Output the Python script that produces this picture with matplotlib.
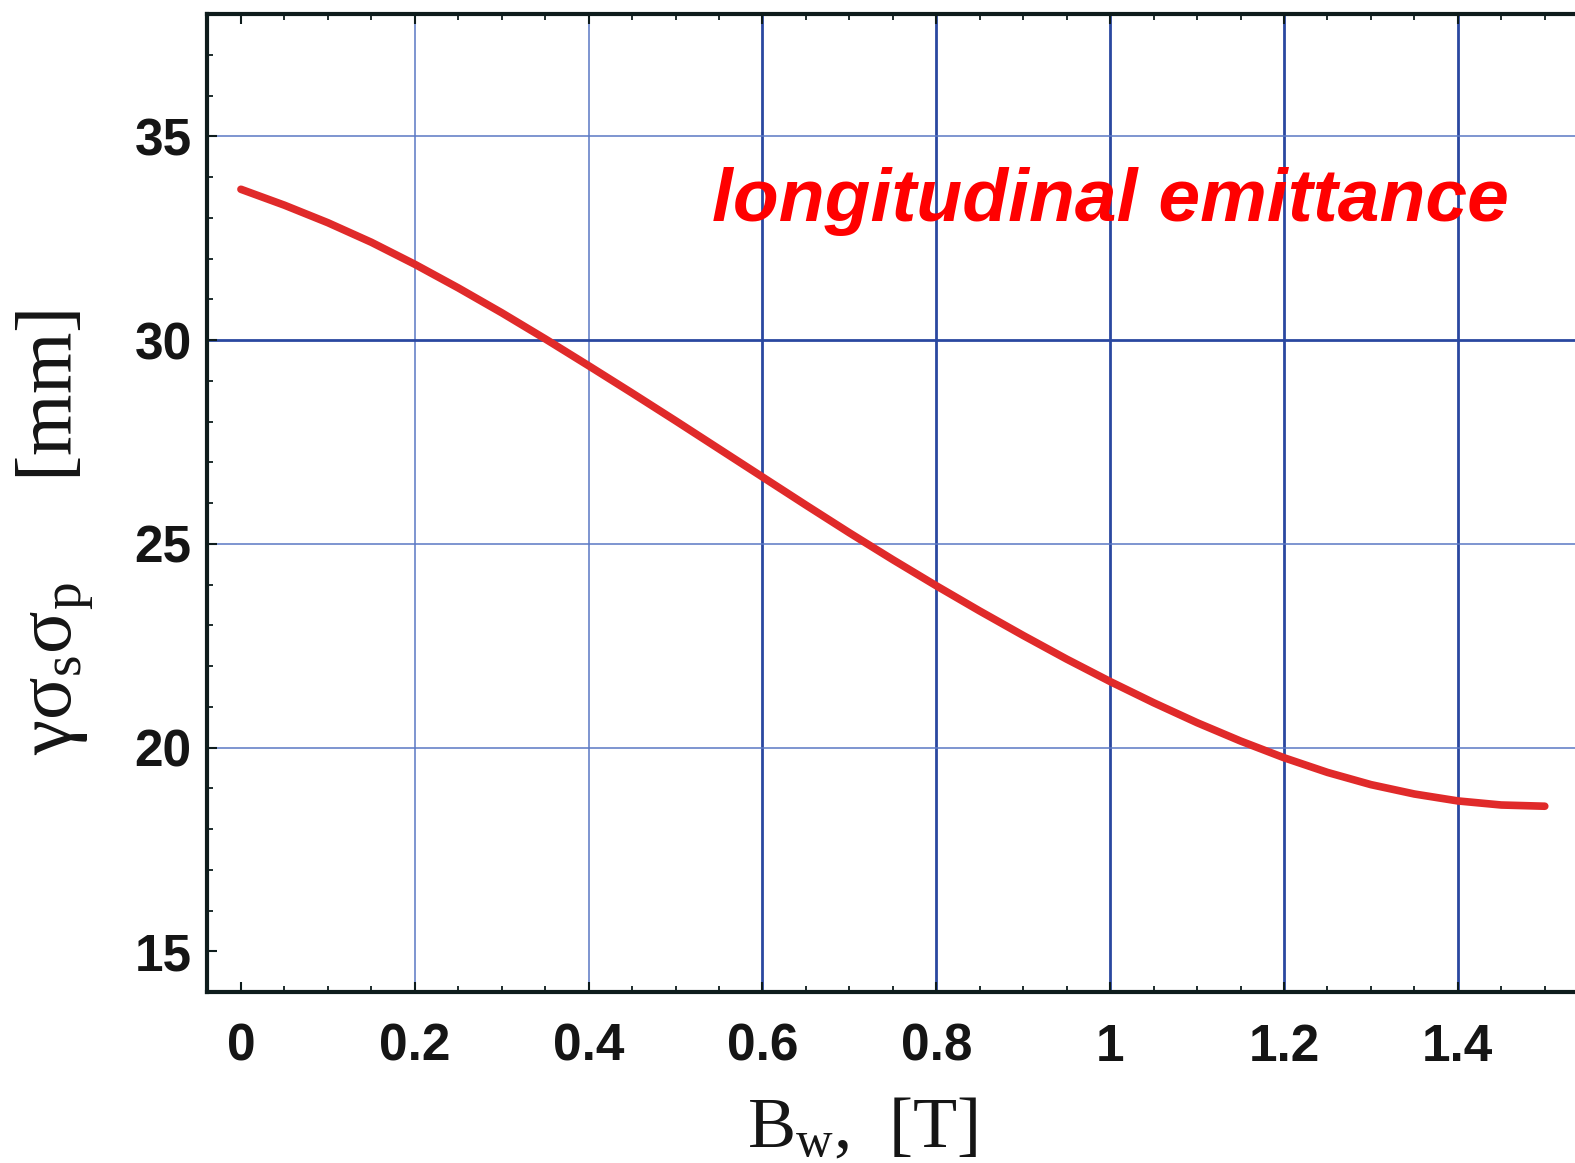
import numpy as np
import matplotlib
matplotlib.use("Agg")
import matplotlib.pyplot as plt
from matplotlib.ticker import MultipleLocator, FixedLocator

# values
bw = [0.00, 0.05, 0.10, 0.15, 0.20, 0.25, 0.30, 0.35, 0.40, 0.45, 0.50,
      0.55, 0.60, 0.65, 0.70, 0.75, 0.80, 0.85, 0.90, 0.95, 1.00,
      1.05, 1.10, 1.15, 1.20, 1.25, 1.30, 1.35, 1.40, 1.45, 1.50]
emit = [33.70, 33.31, 32.88, 32.40, 31.86, 31.28, 30.67, 30.03, 29.37, 28.70, 28.02,
        27.33, 26.64, 25.95, 25.27, 24.61, 23.97, 23.35, 22.75, 22.17, 21.62,
        21.10, 20.61, 20.16, 19.75, 19.39, 19.09, 18.86, 18.69, 18.59, 18.56]

xticks = [0, 0.2, 0.4, 0.6, 0.8, 1.0, 1.2, 1.4]
xticklabels = ["0", "0.2", "0.4", "0.6", "0.8", "1", "1.2", "1.4"]
yticks = [15, 20, 25, 30, 35]

xgrid_thin = [0.2, 0.4]
xgrid_thick = [0.6, 0.8, 1.0, 1.2, 1.4]
ygrid_thin = [20, 25, 35]
ygrid_thick = [30]

plt.rcParams['mathtext.fontset'] = 'custom'
plt.rcParams['mathtext.rm'] = 'Liberation Serif'
plt.rcParams['mathtext.it'] = 'Liberation Serif:italic'

fig = plt.figure(figsize=(15.75, 11.63), dpi=100)
ax = fig.add_axes([0.1314, 0.1470, 0.8781, 0.8409])

thin_c = '#5a78c4'
thick_c = '#2a48a0'
for v in xgrid_thin:
    ax.axvline(v, color=thin_c, lw=1.1, zorder=1)
for v in xgrid_thick:
    ax.axvline(v, color=thick_c, lw=2.0, zorder=1)
for v in ygrid_thin:
    ax.axhline(v, color=thin_c, lw=1.1, zorder=1)
for v in ygrid_thick:
    ax.axhline(v, color=thick_c, lw=2.0, zorder=1)

ax.plot(bw, emit, color='#e02a2a', lw=5.5, solid_capstyle='round',
        solid_joinstyle='round', zorder=3)

ax.set_xlim(-0.0391, 1.552)
ax.set_ylim(14, 38)

ax.xaxis.set_major_locator(FixedLocator(xticks))
ax.set_xticklabels(xticklabels)
ax.xaxis.set_minor_locator(MultipleLocator(0.05))
ax.yaxis.set_major_locator(FixedLocator(yticks))
ax.yaxis.set_minor_locator(MultipleLocator(1))

spine_c = '#0e1c1c'
for s in ax.spines.values():
    s.set_linewidth(3)
    s.set_color(spine_c)

ax.tick_params(which='both', direction='in', top=True, right=True, color=spine_c)
ax.tick_params(which='major', length=7, width=1.5)
ax.tick_params(which='minor', length=4.5, width=1.3)
ax.tick_params(axis='x', which='major', pad=22)
ax.tick_params(axis='y', which='major', pad=11)
for lab in ax.get_xticklabels() + ax.get_yticklabels():
    lab.set_fontfamily('Liberation Sans')
    lab.set_fontsize(37)
    lab.set_fontweight('bold')
    lab.set_color('#151515')

ax.set_xlabel(r'B$_{\mathrm{w}}$,  [T]', fontfamily='Liberation Serif',
              fontsize=52, color='#151515')
ax.xaxis.set_label_coords(0.4736, -0.108)
ax.xaxis.label.set_va('top')

ax.set_ylabel(r'γσ$_{\mathrm{s}}$σ$_{\mathrm{p}}$     [mm]', fontfamily='Liberation Serif',
              fontsize=57, color='#151515')
ax.yaxis.set_label_coords(-0.0800, 0.4700)

ax.text(0.542, 32.93, 'longitudinal emittance', color='#ff0000', fontsize=54,
        fontfamily='Liberation Sans', fontweight='bold', fontstyle='italic',
        ha='left', va='baseline', zorder=4)

fig.savefig('out.png', dpi=100)
